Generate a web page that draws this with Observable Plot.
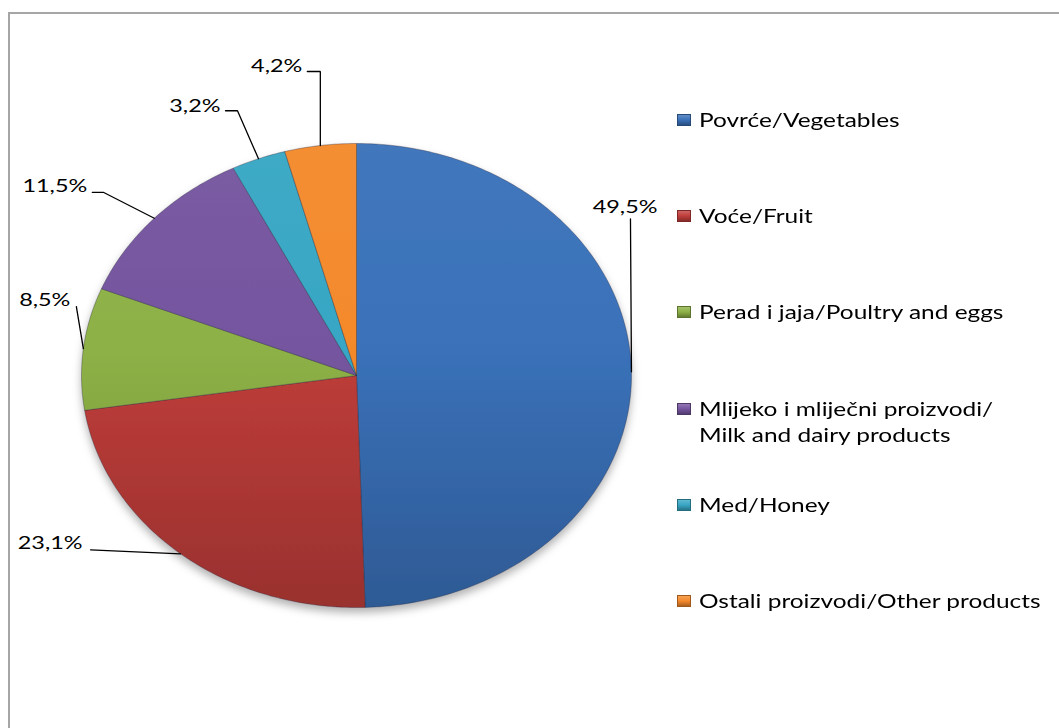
<!DOCTYPE html>
<html>
<head>
<meta charset="utf-8">
<script src="https://cdn.jsdelivr.net/npm/d3@7"></script>
<script src="https://cdn.jsdelivr.net/npm/@observablehq/plot@0.6"></script>
<style>
  html, body { margin: 0; padding: 0; background: #fff; }
  body { width: 1059px; height: 728px; overflow: hidden; position: relative; font-family: Lato, "Open Sans", sans-serif; }
  #frame { position: absolute; left: 8px; top: 12px; width: 1200px; height: 900px;
           border-top: 2px solid #a6a6a6; border-left: 2px solid #a6a6a6; box-sizing: border-box; }
  #chart { position: absolute; left: 0; top: 0; }
  .item { position: absolute; left: 677px; display: flex; align-items: flex-start; }
  .sw { width: 14px; height: 12px; margin-top: 7px; margin-right: 8px; box-sizing: border-box; }
  .lt { font-size: 18.5px; line-height: 26px; transform: scaleX(1.32); transform-origin: 0 0;
        white-space: nowrap; color: #000; }
</style>
</head>
<body>
<div id="frame"></div>
<div id="chart"></div>
<div id="legend"></div>
<script>
// ---- data ----
const categories = [
  "Povrće/Vegetables",
  "Voće/Fruit",
  "Perad i jaja/Poultry and eggs",
  "Mlijeko i mliječni proizvodi/\nMilk and dairy products",
  "Med/Honey",
  "Ostali proizvodi/Other products"
];
const shares = [49.5, 23.1, 8.5, 11.5, 3.2, 4.2];

// ---- styles / layout ----
const baseColors = ["#3a71b9", "#bf3d3a", "#8db146", "#75559f", "#37a6c4", "#f4892b"];
// label layout: [elbowDx, elbowDy, tailDx, textDx, textDy] in pixels, relative to slice rim anchor
const labelLayout = [
  [-1, -153, 0, 27, -12],
  [-90, -4, 0, -8, -7],
  [-7, -42, 0, -6, -6],
  [-51, -26, -11, -16, -6],
  [-21, -48, -12, -17, -5],
  [0, -74, -13, -18, -5]
];
const CX = 356, CY = 375, RX = 275, RY = 232;
const STRETCH = 1.3;

const total = d3.sum(shares);
const fmt = v => d3.format(".1f")(v).replace(".", ",") + "%";

// slice polygons in unit-circle coordinates (angle clockwise from 12 o'clock)
const slicePts = [];
const anchors = [];
let cum = 0;
shares.forEach((v, i) => {
  const a0 = cum / total * 2 * Math.PI;
  cum += v;
  const a1 = cum / total * 2 * Math.PI;
  const n = Math.max(4, Math.ceil((a1 - a0) / (2 * Math.PI) * 360));
  slicePts.push({cat: categories[i], x: 0, y: 0});
  for (let k = 0; k <= n; ++k) {
    const a = a0 + (a1 - a0) * k / n;
    slicePts.push({cat: categories[i], x: Math.sin(a), y: Math.cos(a)});
  }
  slicePts.push({cat: categories[i], x: 0, y: 0});
  const am = (a0 + a1) / 2;
  anchors.push({cat: categories[i], x: Math.sin(am), y: Math.cos(am), v});
});

// leader lines & label positions (pixel offsets converted to data units)
const leaderPts = [];
const labels = [];
anchors.forEach((d, i) => {
  const [ex, ey, tx, lx, ly] = labelLayout[i];
  const p = (dx, dy) => ({cat: d.cat, x: d.x + dx / RX, y: d.y - dy / RY});
  leaderPts.push(p(0, 0), p(ex, ey));
  if (tx) leaderPts.push(p(ex + tx, ey));
  const t = p(ex + lx, ey + ly);
  labels.push({...t, text: fmt(d.v)});
});

const plot = Plot.plot({
  width: 1059,
  height: 728,
  margin: 0,
  x: {domain: [-1, 1], range: [CX - RX, CX + RX], axis: null},
  y: {domain: [-1, 1], range: [CY + RY, CY - RY], axis: null},
  color: {domain: categories, range: categories.map((c, i) => `url(#slice${i})`)},
  style: {fontFamily: "Lato, 'Open Sans', sans-serif", fontSize: "18px", background: "transparent", overflow: "visible"},
  marks: [
    Plot.line(slicePts, {x: "x", y: "y", z: "cat", fill: "cat", stroke: "rgba(40,40,60,0.45)", strokeWidth: 0.8}),
    Plot.line(leaderPts, {x: "x", y: "y", z: "cat", stroke: "#000", strokeWidth: 1.3, strokeLinejoin: "miter"}),
    Plot.text(labels, {x: "x", y: "y", text: "text", textAnchor: "end", fill: "#000", fontSize: 18})
  ]
});
document.getElementById("chart").appendChild(plot);

// gradients and shadow
const svg = d3.select(plot);
const defs = svg.insert("defs", ":first-child");
const ys = plot.scale("y");
const yTop = ys.apply(1), yBot = ys.apply(-1);
baseColors.forEach((c, i) => {
  const g = defs.append("linearGradient").attr("id", `slice${i}`)
    .attr("gradientUnits", "userSpaceOnUse").attr("x1", 0).attr("x2", 0).attr("y1", yTop).attr("y2", yBot);
  g.append("stop").attr("offset", 0).attr("stop-color", d3.interpolateRgb(c, "#fff")(0.04));
  g.append("stop").attr("offset", 0.45).attr("stop-color", c);
  g.append("stop").attr("offset", 1).attr("stop-color", d3.interpolateRgb(c, "#000")(0.2));
});
const f = defs.append("filter").attr("id", "shadow").attr("x", "-10%").attr("y", "-10%").attr("width", "120%").attr("height", "125%");
f.append("feDropShadow").attr("dx", 0).attr("dy", 5).attr("stdDeviation", 4).attr("flood-color", "#000").attr("flood-opacity", 0.3);
svg.select('g[aria-label="line"]').attr("filter", "url(#shadow)");

// horizontal stretch of label text to match reference
svg.selectAll('g[aria-label="text"] text').each(function() {
  const w = this.getComputedTextLength();
  this.setAttribute("textLength", w * STRETCH);
  this.setAttribute("lengthAdjust", "spacingAndGlyphs");
});

// legend, using the chart's colour domain
const leg = d3.select("#legend");
const colorScale = plot.scale("color");
colorScale.domain.forEach((cat, i) => {
  const c = baseColors[i];
  const item = leg.append("div").attr("class", "item").style("top", (120 + 96.2 * i - 13) + "px");
  item.append("div").attr("class", "sw")
    .style("background", `linear-gradient(${d3.interpolateRgb(c, "#fff")(0.2)}, ${c} 50%, ${d3.interpolateRgb(c, "#000")(0.3)})`)
    .style("border", `1px solid ${d3.interpolateRgb(c, "#000")(0.35)}`);
  const lt = item.append("div").attr("class", "lt");
  cat.split("\n").forEach((line, j) => {
    if (j) lt.append("br");
    lt.append("span").text(line);
  });
});
</script>
</body>
</html>
